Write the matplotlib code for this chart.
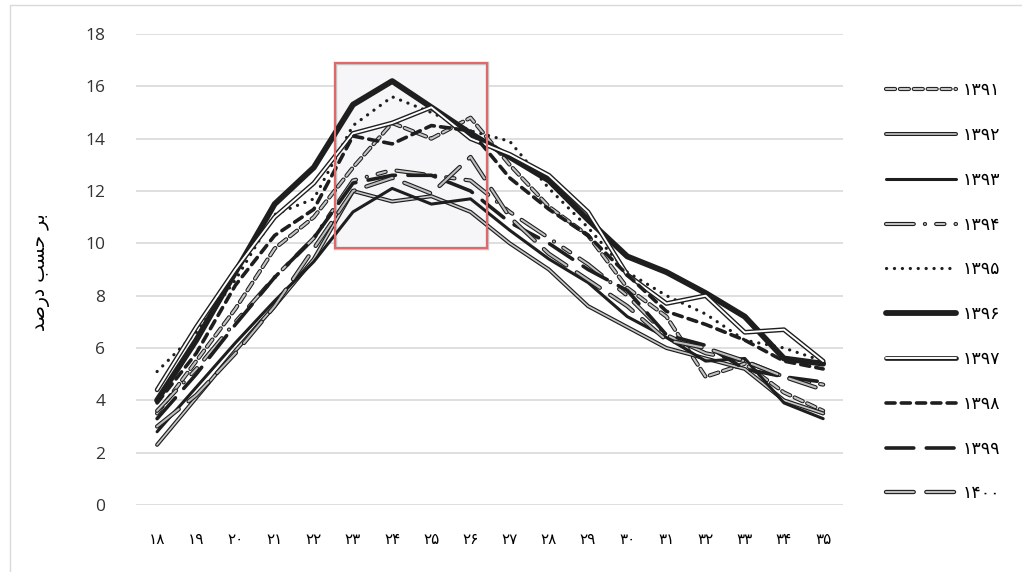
import matplotlib
matplotlib.use("Agg")
import matplotlib.pyplot as plt
import matplotlib.patheffects as pe
from matplotlib.patches import Rectangle

plt.rcParams["font.family"] = ["Open Sans", "DejaVu Sans"]
plt.rcParams["lines.scale_dashes"] = False

FA = str.maketrans("0123456789", "۰۱۲۳۴۵۶۷۸۹")

ages = list(range(18, 36))
years = [1391, 1392, 1393, 1394, 1395, 1396, 1397, 1398, 1399, 1400]

v1391 = [3.5, 5.5, 7.5, 9.8, 11.0, 12.9, 14.6, 14.0, 14.8, 13.0, 11.4, 10.3, 8.3, 7.2, 4.9, 5.4, 4.3, 3.6]
v1392 = [2.3, 4.1, 5.9, 7.6, 9.4, 12.0, 11.6, 11.8, 11.2, 10.0, 9.0, 7.6, 6.8, 6.0, 5.6, 5.2, 4.0, 3.5]
v1393 = [2.8, 4.5, 6.2, 7.8, 9.3, 11.2, 12.1, 11.5, 11.7, 10.5, 9.4, 8.5, 7.2, 6.4, 5.5, 5.6, 3.9, 3.3]
v1394 = [3.6, 5.2, 7.0, 8.7, 10.2, 12.4, 12.8, 12.6, 12.4, 11.2, 10.2, 9.2, 8.0, 6.5, 5.8, 5.5, 4.9, 4.6]
v1395 = [5.1, 6.6, 8.6, 11.1, 11.7, 14.5, 15.6, 15.0, 14.3, 13.9, 12.1, 10.6, 8.9, 8.0, 7.3, 6.3, 6.0, 5.5]
v1396 = [4.0, 6.3, 8.9, 11.5, 12.9, 15.3, 16.2, 15.2, 14.2, 13.3, 12.4, 10.9, 9.5, 8.9, 8.1, 7.2, 5.6, 5.4]
v1397 = [4.4, 6.8, 9.0, 11.0, 12.3, 14.2, 14.6, 15.2, 14.0, 13.4, 12.6, 11.2, 8.8, 7.7, 8.0, 6.6, 6.7, 5.5]
v1398 = [3.9, 5.8, 8.4, 10.3, 11.3, 14.1, 13.8, 14.5, 14.3, 12.5, 11.3, 10.3, 8.8, 7.4, 6.9, 6.3, 5.5, 5.2]
v1399 = [3.3, 5.0, 6.9, 8.7, 10.2, 12.3, 12.6, 12.6, 12.0, 10.8, 10.0, 9.0, 8.2, 6.5, 6.1, 5.2, 4.9, 4.7]
v1400 = [3.0, 4.2, 5.8, 7.6, 9.8, 12.0, 12.5, 11.9, 13.3, 11.0, 9.6, 8.6, 7.6, 6.3, 6.0, 5.5, 4.9, 4.4]

values = [v1391, v1392, v1393, v1394, v1395, v1396, v1397, v1398, v1399, v1400]

# (inner colour, inner lw, outline lw or None, dashes or None)
styles = [
    ("#c4c4c4", 1.5, 3.0, (6.5, 3.5)),
    ("#c8c8c8", 1.2, 2.9, None),
    ("#1e1e1e", 2.2, None, None),
    ("#c4c4c4", 1.4, 3.0, (20, 8, 0.1, 8, 6, 8)),
    ("#1e1e1e", 2.3, None, (0.1, 5.6)),
    ("#1e1e1e", 4.2, None, None),
    ("#ffffff", 1.4, 3.4, None),
    ("#1e1e1e", 2.6, None, (6.5, 4.5)),
    ("#1e1e1e", 2.6, None, (20, 9)),
    ("#bdbdbd", 1.5, 3.1, (20, 9)),
]

fig = plt.figure(figsize=(10.22, 5.72), dpi=100)
ax = fig.add_axes([0.133, 0.1171, 0.692, 0.8235])

handles = []
for yr, vals, (col, lw, olw, dash) in zip(years, values, styles):
    kw = dict(color=col, lw=lw, solid_capstyle="round", dash_capstyle="round",
              solid_joinstyle="round", dash_joinstyle="round", zorder=2)
    if dash is not None:
        kw["dashes"] = dash
    if olw is not None:
        kw["path_effects"] = [pe.Stroke(linewidth=olw, foreground="#1e1e1e"), pe.Normal()]
    ln, = ax.plot(ages, vals, label=str(yr).translate(FA), **kw)
    handles.append(ln)

# highlighted peak region: light fill behind the lines, red frame on top
ax.add_patch(Rectangle((22.54, 9.82), 3.88, 7.07, facecolor="#f6f6f9",
                       edgecolor="#c4c4c4", lw=2.5, zorder=1.5))
ax.add_patch(Rectangle((22.54, 9.82), 3.88, 7.07, facecolor="none",
                       edgecolor="#e06868", lw=1.5, zorder=4))

ax.set_xlim(17.46, 35.51)
ax.set_ylim(0, 18)
ax.set_xticks(ages)
ax.set_xticklabels([str(a).translate(FA) for a in ages], fontsize=11)
ax.set_yticks(range(0, 19, 2))
ax.set_yticklabels([str(v) for v in range(0, 19, 2)], fontsize=12.5, color="#333333")
ax.tick_params(length=0, pad=20, axis="x")
ax.tick_params(length=0, pad=22, axis="y")
ax.grid(axis="y", color="#d9d9d9", lw=1.2)
ax.set_axisbelow(True)
for s in ax.spines.values():
    s.set_visible(False)

# y label (pre-shaped Persian text)
fig.text(40 / 1022, 1 - 272 / 572, "\ufeaa\ufebb\ufead\ufea9 \ufe90\ufeb4\ufea3 \ufeae\ufe91",
         rotation=90, ha="center", va="center", fontsize=13.5, family=["DejaVu Sans"])

leg = fig.legend(handles=handles, loc="upper left", bbox_to_anchor=(0.852, 0.882),
                 frameon=False, fontsize=12.5, handlelength=4.0, handletextpad=0.4,
                 labelspacing=1.65)

# outer chart frame
fig.add_artist(Rectangle((10 / 1022, -0.01), 1.0, 1 - 5 / 572 + 0.01,
                         transform=fig.transFigure, facecolor="none",
                         edgecolor="#d9d9d9", lw=1))

fig.savefig("out.png", dpi=100)
